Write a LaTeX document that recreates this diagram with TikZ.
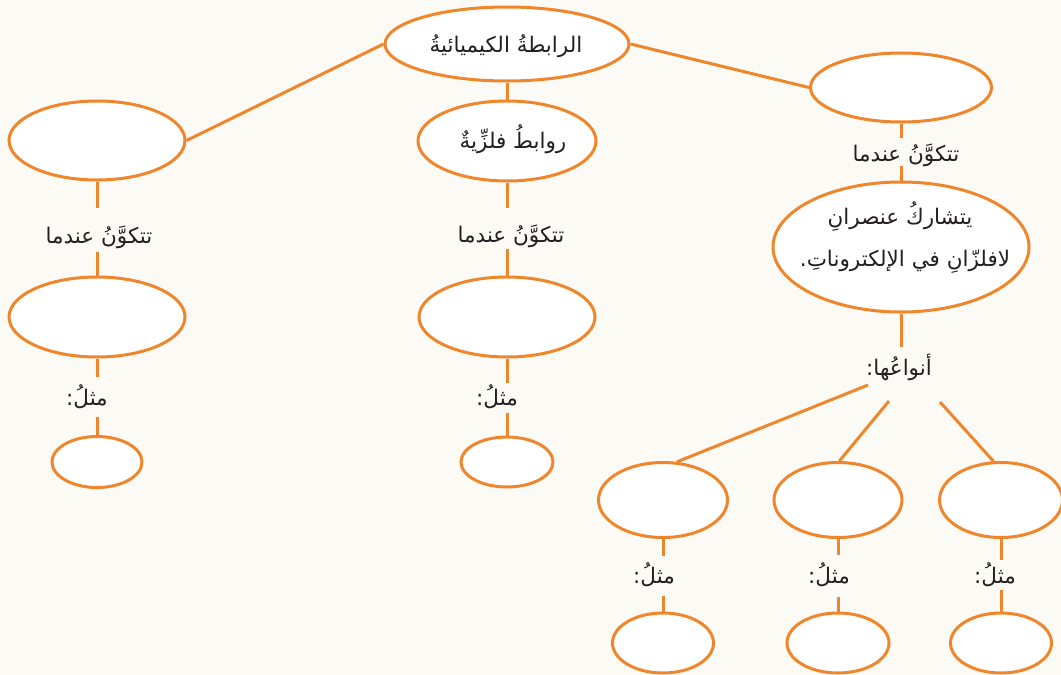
\documentclass[tikz,border=0pt]{standalone}
\usepackage{fontspec}
\usetikzlibrary{shapes.geometric}
\newfontfamily\arabicfont[Script=Arabic]{DejaVu Sans}
\TeXXeTstate=1
\definecolor{org}{HTML}{F0862C}
\definecolor{ink}{HTML}{231F20}
\definecolor{bgc}{HTML}{FCFAF5}
\tikzset{
  txt/.style={font=\arabicfont\fontsize{21.5}{26}\selectfont, text=ink, inner sep=0pt, anchor=base},
  lbl/.style 2 args={txt, text height=#1, text depth=#2},
  bub/.style={ellipse, draw=org, line width=3pt, fill=white, inner sep=0pt},
  conn/.style={draw=org, line width=3pt},
}
\begin{document}
\begin{tikzpicture}[x=1pt,y=-1pt]
\useasboundingbox[fill=bgc] (0,0) rectangle (1061,675);
% ellipses
\node[bub, minimum width=244pt, minimum height=74pt] (top) at (507,44) {};
\node[bub, minimum width=178pt, minimum height=80pt] (M1) at (507,141) {};
\node[bub, minimum width=176pt, minimum height=79pt] (L1) at (97,140.5) {};
\node[bub, minimum width=181pt, minimum height=69pt] (R1) at (901,87.5) {};
\node[bub, minimum width=176pt, minimum height=80pt] (L2) at (97,317) {};
\node[bub, minimum width=176pt, minimum height=80pt] (M2) at (507,317) {};
\node[bub, minimum width=90pt, minimum height=51pt] (L3) at (97,462) {};
\node[bub, minimum width=92pt, minimum height=50pt] (M3) at (507,462) {};
\node[bub, minimum width=256pt, minimum height=130pt] (big) at (901,247) {};
\node[bub, minimum width=129pt, minimum height=75pt] (B1) at (663,500) {};
\node[bub, minimum width=128pt, minimum height=75pt] (B2) at (838,500) {};
\node[bub, minimum width=123pt, minimum height=75pt] (B3) at (1001,500) {};
\node[bub, minimum width=101pt, minimum height=60pt] (S1) at (663,643) {};
\node[bub, minimum width=102pt, minimum height=60pt] (S2) at (838,643) {};
\node[bub, minimum width=101pt, minimum height=60pt] (S3) at (1001,643) {};
% texts inside ellipses
\node[txt] (topt) at (506,52) {\beginR الرابطةُ الكيميائيةُ\endR};
\node[txt] (M1t) at (513,148) {\beginR روابطُ فلزِّيةٌ\endR};
\node[txt] (bigt1) at (900,224) {\beginR يتشاركُ عنصرانِ\endR};
\node[txt] (bigt2) at (905,266) {\beginR لافلزّانِ في الإلكتروناتِ.\endR};
% labels
\node[lbl={35pt}{9pt}] (lL1) at (99,243) {\beginR تتكوَّنُ عندما\endR};
\node[lbl={28pt}{12pt}] (lL2) at (87,405) {\beginR مثلُ:\endR};
\node[lbl={34pt}{7pt}] (lM1) at (511,242) {\beginR تتكوَّنُ عندما\endR};
\node[lbl={22pt}{8pt}] (lM2) at (497,405) {\beginR مثلُ:\endR};
\node[lbl={23pt}{5pt}] (lR1) at (906,161) {\beginR تتكوَّنُ عندما\endR};
\node[lbl={28pt}{5pt}] (lR2) at (899,375) {\beginR أنواعُها:\endR};
\node[lbl={27pt}{13pt}] (lB1) at (654,583) {\beginR مثلُ:\endR};
\node[lbl={28pt}{14pt}] (lB2) at (829,583) {\beginR مثلُ:\endR};
\node[lbl={23pt}{7pt}] (lB3) at (995,583) {\beginR مثلُ:\endR};
\coordinate (f1) at (868,385);
\coordinate (f2) at (889,401);
\coordinate (f3) at (940,402);
% connectors
\begin{scope}[conn]
\draw (top.west) -- (L1.east);
\draw (top.east) -- (R1.west);
\draw (top.south) -- (M1.north);
\draw (L1.south) -- (L1.south |- lL1.north);
\draw (L2.north |- lL1.south) -- (L2.north);
\draw (L2.south) -- (L2.south |- lL2.north);
\draw (L3.north |- lL2.south) -- (L3.north);
\draw (M1.south) -- (M1.south |- lM1.north);
\draw (M2.north |- lM1.south) -- (M2.north);
\draw (M2.south) -- (M2.south |- lM2.north);
\draw (M3.north |- lM2.south) -- (M3.north);
\draw (R1.south) -- (R1.south |- lR1.north);
\draw (big.north |- lR1.south) -- (big.north);
\draw (big.south) -- (big.south |- lR2.north);
\draw (f1) -- (B1.70);
\draw (f2) -- (B2.88);
\draw (f3) -- (B3.101);
\draw (B1.south) -- (B1.south |- lB1.north);
\draw (S1.north |- lB1.south) -- (S1.north);
\draw (B2.south) -- (B2.south |- lB2.north);
\draw (S2.north |- lB2.south) -- (S2.north);
\draw (B3.south) -- (B3.south |- lB3.north);
\draw (S3.north |- lB3.south) -- (S3.north);
\end{scope}
\end{tikzpicture}
\end{document}
